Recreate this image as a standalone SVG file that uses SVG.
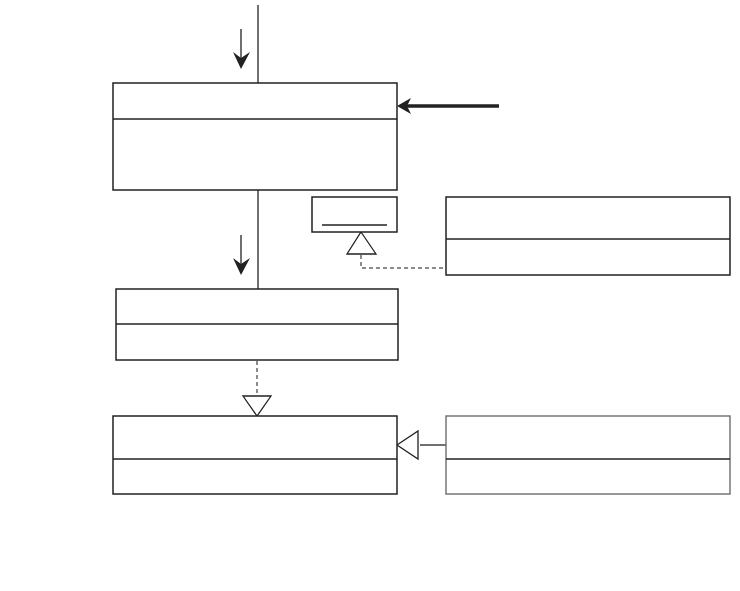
<svg xmlns="http://www.w3.org/2000/svg" width="740" height="591" viewBox="0 0 740 591">
<style>
.box{fill:#fff;stroke:#222;stroke-width:1.5}
.gbox{fill:#fff;stroke:#777;stroke-width:1.5}
.div{stroke:#222;stroke-width:1.5}
.ln{stroke:#222;stroke-width:1.3;fill:none}
.dash{stroke:#666;stroke-width:1.5;fill:none;stroke-dasharray:4,3}
.tri{fill:#fff;stroke:#222;stroke-width:1.3}
.head{fill:#222}
</style>
<rect width="740" height="591" fill="#fff"/>
<g id="connectors">
<line class="ln" x1="258" y1="5" x2="258" y2="83"/>
<line class="ln" x1="241" y1="29" x2="241" y2="60"/>
<path class="head" d="M233,52 L241,58 L250,52 L241,69 Z"/>
<line class="ln" x1="258" y1="190" x2="258" y2="289"/>
<line class="ln" x1="241" y1="235" x2="241" y2="266"/>
<path class="head" d="M233,258 L241,264 L250,258 L241,275 Z"/>
<line x1="499" y1="106" x2="406" y2="106" stroke="#222" stroke-width="3.5"/>
<path class="head" d="M397,106 L411,98 L407,106 L411,114 Z"/>
<line class="dash" x1="257" y1="361" x2="257" y2="396"/>
<path class="tri" d="M243,396 L271,396 L257,416 Z"/>
<path class="dash" d="M361,255 L361,268 L446,268"/>
<path class="tri" d="M361,232 L376,254 L347,254 Z"/>
<line class="ln" x1="420" y1="445" x2="446" y2="445"/>
<path class="tri" d="M397,445 L418,431 L418,459 Z"/>
</g>
<g id="node1">
<rect class="box" x="113" y="83" width="284" height="107"/>
<line class="div" x1="113" y1="119" x2="397" y2="119"/>
</g>
<g id="node2">
<rect class="box" x="116" y="289" width="282" height="71"/>
<line class="div" x1="116" y1="324" x2="398" y2="324"/>
</g>
<g id="node3">
<rect class="box" x="113" y="416" width="284" height="78"/>
<line class="div" x1="113" y1="459" x2="397" y2="459"/>
</g>
<g id="node4">
<rect class="gbox" x="446" y="416" width="284" height="78"/>
<line class="div" x1="446" y1="459" x2="730" y2="459"/>
</g>
<g id="node5">
<rect class="box" x="312" y="197" width="85" height="35"/>
<line class="div" x1="322" y1="225" x2="387" y2="225"/>
</g>
<g id="node6">
<rect class="box" x="446" y="197" width="284" height="78"/>
<line class="div" x1="446" y1="239" x2="730" y2="239"/>
</g>
</svg>
